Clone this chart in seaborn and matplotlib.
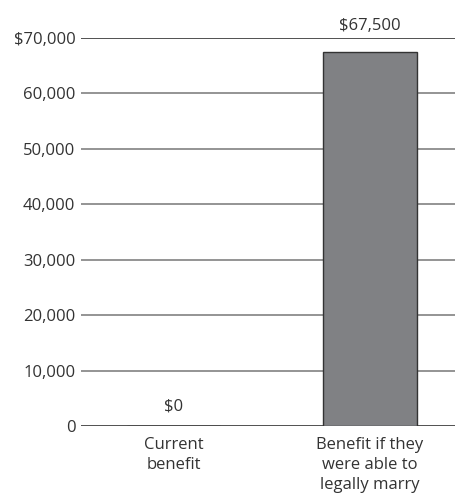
import matplotlib
matplotlib.use("Agg")
import matplotlib.pyplot as plt
import seaborn as sns
import pandas as pd

categories = ["Current\nbenefit", "Benefit if they\nwere able to\nlegally marry"]
values = [0, 67500]
value_labels = ["$0", "$67,500"]
yticks = [0, 10000, 20000, 30000, 40000, 50000, 60000, 70000]
ytick_labels = ["0", "10,000", "20,000", "30,000", "40,000", "50,000", "60,000", "$70,000"]

sns.set_style("white")
plt.rcParams['font.family'] = ['Open Sans', 'DejaVu Sans']

df = pd.DataFrame({"cat": categories, "val": values})

fig = plt.figure(figsize=(4.56, 4.96), dpi=100)
ax = fig.add_axes([81/456, 1 - 426/496, (456-81)/456, (426-38)/496])

for t in yticks:
    col = "#222222" if t in (0, 70000) else "#777777"
    ax.axhline(t, color=col, lw=1.1, zorder=0)

sns.barplot(data=df, x="cat", y="val", color="#808184", width=0.475,
            edgecolor="#333333", linewidth=1.0, saturation=1, ax=ax, zorder=2)

ax.set_xlim(-0.474, 1.439)
ax.set_ylim(0, 70000)
ax.set_yticks(yticks)
ax.set_yticklabels(ytick_labels, fontsize=12, color="#333333")
ax.set_xticks([0, 1])
ax.set_xticklabels(categories, fontsize=12, color="#333333", linespacing=1.32)
ax.tick_params(axis="y", length=0, pad=4)
ax.tick_params(axis="x", length=0, pad=8)
ax.set_xlabel("")
ax.set_ylabel("")
for s in ax.spines.values():
    s.set_visible(False)

offsets = [11, 15.5]
for i, (v, lab) in enumerate(zip(values, value_labels)):
    ax.annotate(lab, (i, v), xytext=(0, offsets[i]), textcoords="offset points",
                ha="center", va="baseline", fontsize=12, color="#333333",
                annotation_clip=False)

fig.savefig("out.png", dpi=100)
